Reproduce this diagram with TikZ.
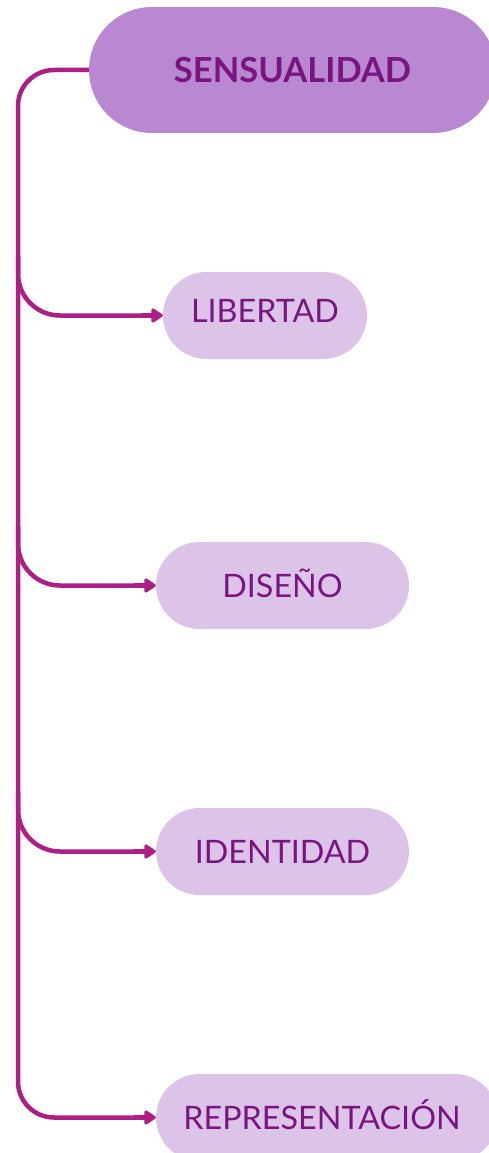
\documentclass[tikz,border=0pt]{standalone}
\usepackage{fontspec}
\setmainfont{Lato}
\usetikzlibrary{arrows.meta,calc}
\definecolor{linec}{HTML}{AE1F86}
\definecolor{topfill}{HTML}{BA88D2}
\definecolor{subfill}{HTML}{DCC4E8}
\definecolor{textc}{HTML}{7A1580}
\begin{document}
\begin{tikzpicture}[x=1pt,y=-1pt,
  topbox/.style={fill=topfill, rounded corners=63pt, minimum width=407pt, minimum height=126pt, inner sep=0pt, text=textc, font=\fontsize{34.5}{38}\selectfont\bfseries, text height=24.7pt, text depth=0pt},
  subbox/.style={fill=subfill, rounded corners=43.5pt, minimum height=87pt, inner sep=0pt, text=textc, font=\fontsize{32.3}{36}\selectfont, text height=23.1pt, text depth=0pt},
  trunk/.style={draw=linec, line width=4.5pt},
  tipseg/.style={draw=linec, line width=4.5pt, -{Triangle[length=13pt,width=16pt,round]}}]
\useasboundingbox (0,0) rectangle (489,1153);
\clip (0,0) rectangle (489,1153);
\node[topbox] (top) at (292.5,70) {SENSUALIDAD};
\node[subbox, minimum width=204pt, text depth=10pt] (n1) at (265,315.5) {LIBERTAD};
\node[subbox, minimum width=253pt] (n2) at (282.5,585.5) {DISEÑO};
\node[subbox, minimum width=253pt] (n3) at (282.5,851.5) {IDENTIDAD};
\node[subbox, minimum width=342pt] (n4) at (327,1117.5) {\hspace*{-10pt}REPRESENTACIÓN};
\coordinate (spine) at (18,0);
\draw[trunk, rounded corners=36pt] (top.west) -| (spine |- n4.west) -- ([xshift=-20pt]n4.west);
\draw[trunk, rounded corners=42pt] ($(spine |- n1.west)+(0,-60)$) |- ([xshift=-20pt]n1.west);
\draw[trunk, rounded corners=42pt] ($(spine |- n2.west)+(0,-60)$) |- ([xshift=-20pt]n2.west);
\draw[trunk, rounded corners=42pt] ($(spine |- n3.west)+(0,-60)$) |- ([xshift=-20pt]n3.west);
\foreach \n in {n1,n2,n3,n4}
  \draw[tipseg] ([xshift=-22pt]\n.west) -- (\n.west);
\end{tikzpicture}
\end{document}
